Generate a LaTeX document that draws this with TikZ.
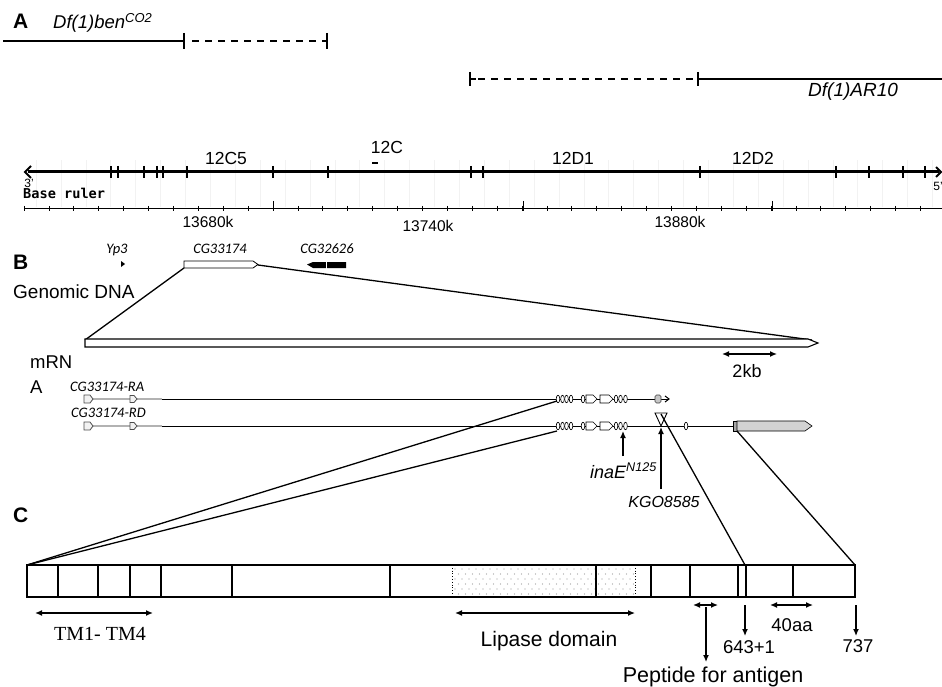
\documentclass[tikz,border=0pt]{standalone}
\usepackage{fontspec}
\setmainfont{Liberation Sans}
\newfontfamily\genefont{Carlito}
\newfontfamily\rulerfont{DejaVu Sans Mono}
\newfontfamily\tmfont{Liberation Serif}
\usetikzlibrary{arrows.meta,positioning,calc}

\newcommand{\fs}[1]{\fontsize{#1}{#1}\selectfont}

\begin{document}
\begin{tikzpicture}[x=1pt,y=-1pt,>={Latex[length=7pt,width=6pt]},
    txt/.style={inner sep=0pt,anchor=base,font=\fs{18.5}},
    tag/.style={inner sep=0pt,anchor=base west,font=\fs{21}\bfseries},
    gene/.style={inner sep=0pt,anchor=base,font=\fs{14.5}\genefont\itshape},
    band/.style={inner sep=0pt,anchor=base,font=\fs{17.5}},
    ln/.style={line width=1.3pt},
    exon/.style={draw,fill=white,line width=0.6pt}]
    \useasboundingbox (0,0) rectangle (942,687);

    % Panel A: deficiencies
    \node[tag] (tagA) at (13,29) {A};
    \node[inner sep=0pt,anchor=base west,font=\fs{18.5}\itshape] (ben) at (53,29) {Df(1)ben\textsuperscript{CO2}};
    \coordinate (benL) at (3,41);
    \coordinate (benM) at (184,41);
    \coordinate (benR) at (327,41);
    \draw[ln] (benL) -- (benM);
    \draw[ln,dash pattern=on 7pt off 6pt] (benM) ++(8,0) -- (benR);
    \draw[ln] (benM) ++(0,-8) -- ++(0,16);
    \draw[ln] (benR) ++(0,-8) -- ++(0,16);

    \coordinate (arL) at (470,79);
    \coordinate (arM) at (698,79);
    \coordinate (arR) at (942,79);
    \draw[ln,dash pattern=on 7pt off 6pt] (arL) ++(8,0) -- (arM);
    \draw[ln] (arL) -- ++(6,0) (arM) -- (arR);
    \draw[ln] (arL) ++(0,-7) -- ++(0,14);
    \draw[ln] (arM) ++(0,-7) -- ++(0,14);
    \node[inner sep=0pt,anchor=base west,font=\fs{19}\itshape] (ar10) at (808,97) {Df(1)AR10};

    % Chromosome bands
    \foreach \k in {0,...,36}
        \draw[black!5,line width=0.6pt] (36+24.9*\k,160) -- (36+24.9*\k,207);
    \draw[line width=3pt] (28,172) -- (939,172);
    \draw[line width=2pt] (31,166) -- (25,172) -- (31,178);
    \draw[line width=2pt] (936,167) -- (941,172) -- (936,177);
    \foreach \x in {111,118,144,157,163,187,273,328,471,483,700,836,869,903,925}
        \draw[line width=2pt] (\x,166) -- (\x,178);
    \node[band] (c5) at (226,165) {12C5};
    \node[band] (c12) at (387,154) {12C};
    \draw[line width=1.3pt] (372,163) -- (378,163);
    \node[band] (d1) at (573,165) {12D1};
    \node[band] (d2) at (753,165) {12D2};
    \node[inner sep=0pt,font=\fs{12}] (end3) at (29,183) {3'};
    \node[inner sep=0pt,font=\fs{12}] (end5) at (938,186) {5'};

    % Base ruler
    \node[inner sep=0pt,anchor=base west,font=\fs{13.6}\rulerfont\bfseries] (ruler) at (23,199) {Base ruler};
    \draw[line width=1pt] (24,209) -- (942,209);
    \foreach \k in {0,...,36}
        \draw[line width=0.8pt] (24+24.9*\k,206) -- (24+24.9*\k,211);
    \foreach \x in {273,523,772}
        \draw[line width=0.8pt] (\x,201) -- (\x,211);
    \node[inner sep=0pt,anchor=base,font=\fs{15.5}] (k1) at (208,227) {13680k};
    \node[inner sep=0pt,anchor=base,font=\fs{15.5}] (k2) at (428,231) {13740k};
    \node[inner sep=0pt,anchor=base,font=\fs{15.5}] (k3) at (680,227) {13880k};

    % Panel B: genomic DNA
    \node[tag] (tagB) at (13,269) {B};
    \node[gene] (yp3) at (117,253) {Yp3};
    \node[gene] (cg1) at (220,253) {CG33174};
    \node[gene] (cg2) at (327,253) {CG32626};
    \fill (121,261) -- (125,264) -- (121,267) -- cycle;
    \draw[line width=0.8pt,fill=white] (184,261) -- (253,261) -- (258,264.5) -- (253,268) -- (184,268) -- cycle;
    \fill (307,264.5) -- (313,262) -- (346,262) -- (346,268) -- (313,268) -- cycle;
    \draw[white,line width=0.8pt] (326,261) -- (326,269);
    \node[inner sep=0pt,anchor=base west,font=\fs{19}] (gdna) at (13,298) {Genomic DNA};

    \coordinate (cgL) at (184,268);
    \coordinate (cgR) at (258,265);
    \coordinate (dnaL) at (85,340);
    \coordinate (dnaR) at (812,340);
    \draw[ln] (cgL) -- (dnaL);
    \draw[ln] (cgR) -- (dnaR);
    \draw[line width=1.1pt,fill=white] (85,339) -- (808,339) -- (818,343) -- (808,347) -- (85,347) -- cycle;

    % scale bar
    \coordinate (kbL) at (722,354);
    \coordinate (kbR) at (777,354);
    \draw[ln,<->] (kbL) -- (kbR);
    \node[txt,font=\fs{18}] (kb) at (747,377) {2kb};

    % mRNA
    \node[inner sep=0pt,anchor=base west,font=\fs{18.5}] (mrn) at (30,368) {mRN};
    \node[inner sep=0pt,anchor=base west,font=\fs{18.5}] (mrnA) at (30,393) {A};
    \node[gene,anchor=base west] (ra) at (70,391) {CG33174-RA};
    \node[gene,anchor=base west] (rd) at (71,417) {CG33174-RD};

    \foreach \yy in {399,426} {
        \draw[gray!60,line width=1.5pt] (93,\yy) -- (162,\yy);
        \draw[gray!60!black,line width=0.8pt,fill=gray!10] (84,\yy-4) -- (90,\yy-4) -- (93,\yy) -- (90,\yy+4) -- (84,\yy+4) -- cycle;
        \draw[gray!60!black,line width=0.8pt,fill=gray!10] (130,\yy-3.5) -- (134,\yy-3.5) -- (137,\yy) -- (134,\yy+3.5) -- (130,\yy+3.5) -- cycle;
        \draw[line width=0.9pt] (162,\yy) -- (655,\yy);
        \foreach \x in {558,562.5,566.5,571,583,616,620.5,625.5}
            \draw[exon] (\x,\yy) ellipse [x radius=1.8pt, y radius=3.8pt];
        \draw[exon] (586,\yy-4) -- (593,\yy-4) -- (597,\yy) -- (593,\yy+4) -- (586,\yy+4) -- cycle;
        \draw[exon] (600,\yy-4) -- (609,\yy-4) -- (613,\yy) -- (609,\yy+4) -- (600,\yy+4) -- cycle;
    }
    % RA tail
    \draw[line width=0.9pt] (661,399) -- (668,399);
    \draw[gray!50!black,line width=0.6pt,fill=gray!45,rounded corners=1.5pt] (655,395) rectangle (661,403);
    \draw[line width=1pt] (665,396) -- (669,399) -- (665,402);
    % RD tail
    \draw[line width=0.9pt] (655,426) -- (734,426);
    \draw[exon] (686,426) ellipse [x radius=1.8pt, y radius=3.8pt];
    \draw[line width=0.6pt,fill=gray!70] (733,421) rectangle (737,431);
    \draw[line width=0.6pt,fill=gray!35] (737,421) -- (805,421) -- (812,426) -- (805,431) -- (737,431) -- cycle;

    % insertion and mutation
    \draw[line width=0.9pt,fill=white] (655,413) -- (667,413) -- (661,426) -- cycle;
    \draw[ln,->] (623,456) -- (623,431);
    \node[inner sep=0pt,anchor=base west,font=\fs{18}\itshape] (inae) at (590,478) {inaE\textsuperscript{N125}};
    \draw[ln,->] (661,489) -- (661,427);
    \node[inner sep=0pt,anchor=base,font=\fs{16}\itshape] (kgo) at (664,507) {KGO8585};

    % Panel C: protein
    \node[tag] (tagC) at (13,522) {C};
    \coordinate (raS) at (557,401);
    \coordinate (rdS) at (557,431);
    \coordinate (triS) at (661,414);
    \coordinate (gbS) at (737,431);
    \coordinate (boxTL) at (27,565);
    \coordinate (box643) at (745,565);
    \coordinate (boxTR) at (855,565);
    \draw[ln] (raS) -- (boxTL);
    \draw[ln] (rdS) -- (boxTL);
    \draw[ln] (triS) -- (box643);
    \draw[ln] (gbS) -- (boxTR);

    % stippled lipase region
    \foreach \i in {0,...,25}
        \foreach \j in {0,...,5}
            \fill[gray!80] ({455+7*\i+3.5*mod(\j,2)},569+5*\j) circle (0.55pt);
    \draw[line width=0.8pt,dotted] (452,565) -- (452,597) (635,565) -- (635,597);
    \draw[line width=1.5pt] (boxTL) rectangle (855,597);
    \foreach \x in {58,98,130,161,232,390,596,651,690,738,746,793}
        \draw[line width=1.5pt] (\x,565) -- (\x,597);

    % annotations
    \draw[ln,<->] (35,613) -- (153,613);
    \node[inner sep=0pt,anchor=base,font=\fs{20}\tmfont] (tm) at (100,640) {TM1- TM4};
    \draw[ln,<->] (455,613) -- (635,613);
    \node[txt,font=\fs{21}] (lip) at (549,646) {Lipase domain};
    \draw[ln,<->] (693,605) -- (718,605);
    \draw[ln,->] (706,607) -- (706,662);
    \node[txt,font=\fs{21.5}] (pep) at (713,682) {Peptide for antigen};
    \draw[ln,->] (745,605) -- (745,636);
    \node[txt] (n643) at (749,653) {643+1};
    \draw[ln,<->] (770,605) -- (813,605);
    \node[txt] (aa40) at (792,631) {40aa};
    \draw[ln,->] (856,605) -- (856,636);
    \node[txt] (n737) at (858,652) {737};
\end{tikzpicture}
\end{document}
